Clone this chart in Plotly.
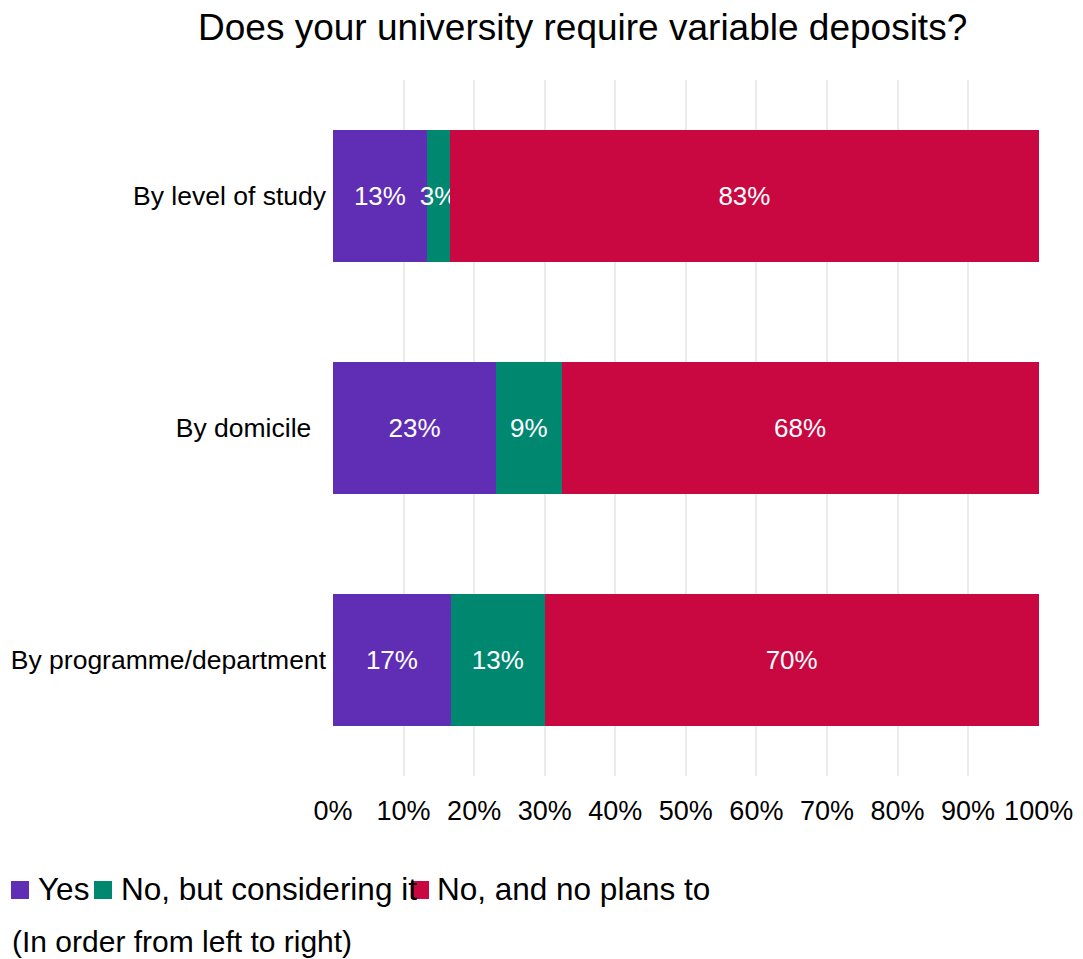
import plotly.graph_objects as go

# Survey responses, share of universities (%)
categories = ["By level of study", "By domicile\u00a0\u00a0", "By programme/department"]
yes = [13.3, 23.1, 16.7]
considering = [3.3, 9.3, 13.3]
no_plans = [83.4, 67.6, 70.0]

series_names = ["Yes", "No, but considering it", "No, and no plans to"]
series_colors = ["#5F2EB5", "#008770", "#C90842"]
tick_vals = [0, 10, 20, 30, 40, 50, 60, 70, 80, 90, 100]
tick_text = [f"{v}%" for v in tick_vals]
legend_note = "(In order from left to right)"

FONT = "Liberation Sans, Arial, sans-serif"

# Figure geometry (pixels)
W, H = 1083, 959
M_L, M_R, M_T, M_B = 333, 44, 80, 183
PLOT_W = W - M_L - M_R
PLOT_H = H - M_T - M_B


def px_to_paper_x(px):
    return (px - M_L) / PLOT_W


def px_to_paper_y(py):
    return (H - M_B - py) / PLOT_H


fig = go.Figure()
for name, vals, color in zip(series_names, [yes, considering, no_plans], series_colors):
    fig.add_trace(go.Bar(
        y=categories,
        x=vals,
        name=name,
        orientation="h",
        marker=dict(color=color, line=dict(width=0)),
        texttemplate="%{x:.0f}%",
        textposition="inside",
        insidetextanchor="middle",
        textangle=0,
        textfont=dict(color="white", size=26, family=FONT),
        constraintext="none",
        width=0.572,
        showlegend=False,
    ))

fig.update_layout(
    barmode="stack",
    width=W,
    height=H,
    autosize=False,
    margin=dict(l=M_L, r=M_R, t=M_T, b=M_B, pad=0, autoexpand=False),
    paper_bgcolor="white",
    plot_bgcolor="white",
    font=dict(family=FONT, color="black"),
    title=dict(
        text="Does your university require variable deposits?",
        font=dict(size=37, color="black", family=FONT),
        x=0.538, xanchor="center", xref="container",
        y=0.972, yanchor="middle", yref="container",
        automargin=False,
    ),
    xaxis=dict(
        range=[0, 100.05],
        tickvals=tick_vals,
        ticktext=tick_text,
        tickfont=dict(size=27, color="black"),
        showgrid=True,
        gridcolor="#EBEBEB",
        gridwidth=1.5,
        zeroline=False,
        showline=False,
        ticks="",
        ticklabelstandoff=16,
        automargin=False,
        fixedrange=True,
    ),
    yaxis=dict(
        autorange="reversed",
        tickfont=dict(size=26.5, color="black"),
        showgrid=False,
        showline=False,
        zeroline=False,
        ticks="",
        ticklabelstandoff=6,
        automargin=False,
    ),
    showlegend=False,
)

# Legend row along the bottom: coloured square + label for each series
legend_square_x = [11, 94, 411]
legend_text_x = [36, 119, 435]
sq_top, sq_bottom = 881, 899
for name, color, sx, tx in zip(series_names, series_colors, legend_square_x, legend_text_x):
    fig.add_shape(
        type="rect", xref="paper", yref="paper",
        x0=px_to_paper_x(sx), x1=px_to_paper_x(sx + 18),
        y0=px_to_paper_y(sq_bottom), y1=px_to_paper_y(sq_top),
        fillcolor=color, line=dict(width=0), layer="above",
    )
    fig.add_annotation(
        text=name, xref="paper", yref="paper",
        x=px_to_paper_x(tx), y=px_to_paper_y(889),
        xanchor="left", yanchor="middle", showarrow=False,
        font=dict(size=31.5, color="black", family=FONT),
    )

fig.add_annotation(
    text=legend_note,
    xref="paper", yref="paper",
    x=px_to_paper_x(10), y=px_to_paper_y(941),
    xanchor="left", yanchor="middle",
    showarrow=False,
    font=dict(size=30, color="black", family=FONT),
)

fig.write_html("out.html")
